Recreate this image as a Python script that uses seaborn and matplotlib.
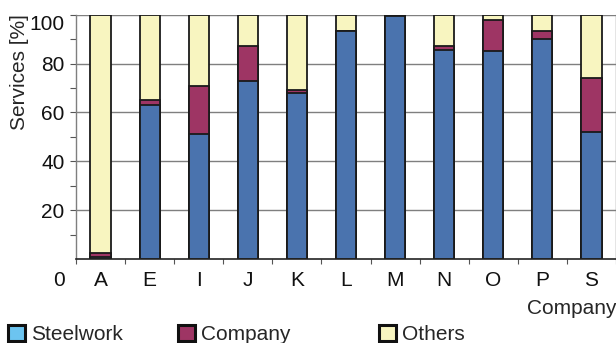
import numpy as np
import matplotlib
matplotlib.use("Agg")
import matplotlib.pyplot as plt
from matplotlib.patches import Patch
from matplotlib.ticker import FixedLocator
import seaborn as sns

# data (% of services)
companies = ['A', 'E', 'I', 'J', 'K', 'L', 'M', 'N', 'O', 'P', 'S']
steelwork = [1.0, 63.0, 51.0, 73.0, 68.0, 93.5, 99.5, 85.5, 85.0, 90.0, 52.0]
company   = [1.5, 2.0, 20.0, 14.0, 1.0, 0.0, 0.0, 1.5, 13.0, 3.5, 22.0]
others    = [97.5, 35.0, 29.0, 13.0, 31.0, 6.5, 0.5, 13.0, 2.0, 6.5, 26.0]

c_steel = '#4A73AE'
c_comp = '#9E3564'
c_other = '#F8F5C0'
c_steel_leg = '#6CC4F0'

sns.set_theme(style="white")
plt.rcParams['font.family'] = ['Liberation Sans', 'DejaVu Sans']
plt.rcParams['font.size'] = 15

fig = plt.figure(figsize=(6.16, 3.43), dpi=100)
ax = fig.add_axes([76/616, 1 - 259/343, 540/616, (259 - 14.7)/343])

# stacked bars: draw cumulative totals from the back
steel = np.array(steelwork)
mid = steel + np.array(company)
top = mid + np.array(others)
for vals, col in [(top, c_other), (mid, c_comp), (steel, c_steel)]:
    sns.barplot(x=companies, y=vals, order=companies, color=col, saturation=1,
                width=0.41, edgecolor='#1a1a1a', linewidth=1.3, ax=ax)

ax.set_xlim(-0.5, 10.5)
ax.set_ylim(0, 100)
ax.set_yticks([20, 40, 60, 80, 100])
ax.yaxis.set_minor_locator(FixedLocator([10, 30, 50, 70, 90]))
ax.xaxis.set_minor_locator(FixedLocator(np.arange(-0.5, 11, 1)))
ax.grid(axis='y', which='major', color='#7f7f7f', linewidth=1.0)
ax.set_axisbelow(True)

ax.tick_params(axis='y', which='both', direction='out', length=4.3, width=0.8,
               color='#555555', left=True, pad=4, labelsize=15, labelcolor='#111111')
ax.tick_params(axis='x', which='major', length=0, pad=9, labelsize=15, labelcolor='#111111')
ax.tick_params(axis='x', which='minor', direction='out', length=3.5, width=0.8,
               color='#555555', bottom=True)
for lab in ax.get_yticklabels():
    if lab.get_text() == '100':
        lab.set_va('top')

for s in ['left', 'right']:
    ax.spines[s].set_color('#7f7f7f')
    ax.spines[s].set_linewidth(1.0)
ax.spines['top'].set_visible(False)
ax.spines['bottom'].set_color('#222222')
ax.spines['bottom'].set_linewidth(1.2)

ax.set_ylabel('Services [%]', fontsize=15)
ax.yaxis.set_label_coords(-0.105, 0.765)
ax.yaxis.label.set_va('center')
ax.set_xlabel('Company', loc='right', fontsize=15, labelpad=6)

fig.text(65/616, 1 - 280/343, '0', ha='right', va='center', fontsize=15, color='#111111')

# legend: three separate entries, spaced as in the original
entries = [('Steelwork', c_steel_leg, 8), ('Company', c_comp, 178), ('Others', c_other, 379)]
for name, col, xpx in entries:
    h = Patch(facecolor=col, edgecolor='#111111', linewidth=2.2)
    fig.legend(handles=[h], labels=[name], loc='lower left',
               bbox_to_anchor=(xpx/616, -0.004), frameon=False, fontsize=15,
               handlelength=0.82, handleheight=0.82, handletextpad=0.3,
               borderpad=0, borderaxespad=0)

plt.savefig('out.png', dpi=100)
